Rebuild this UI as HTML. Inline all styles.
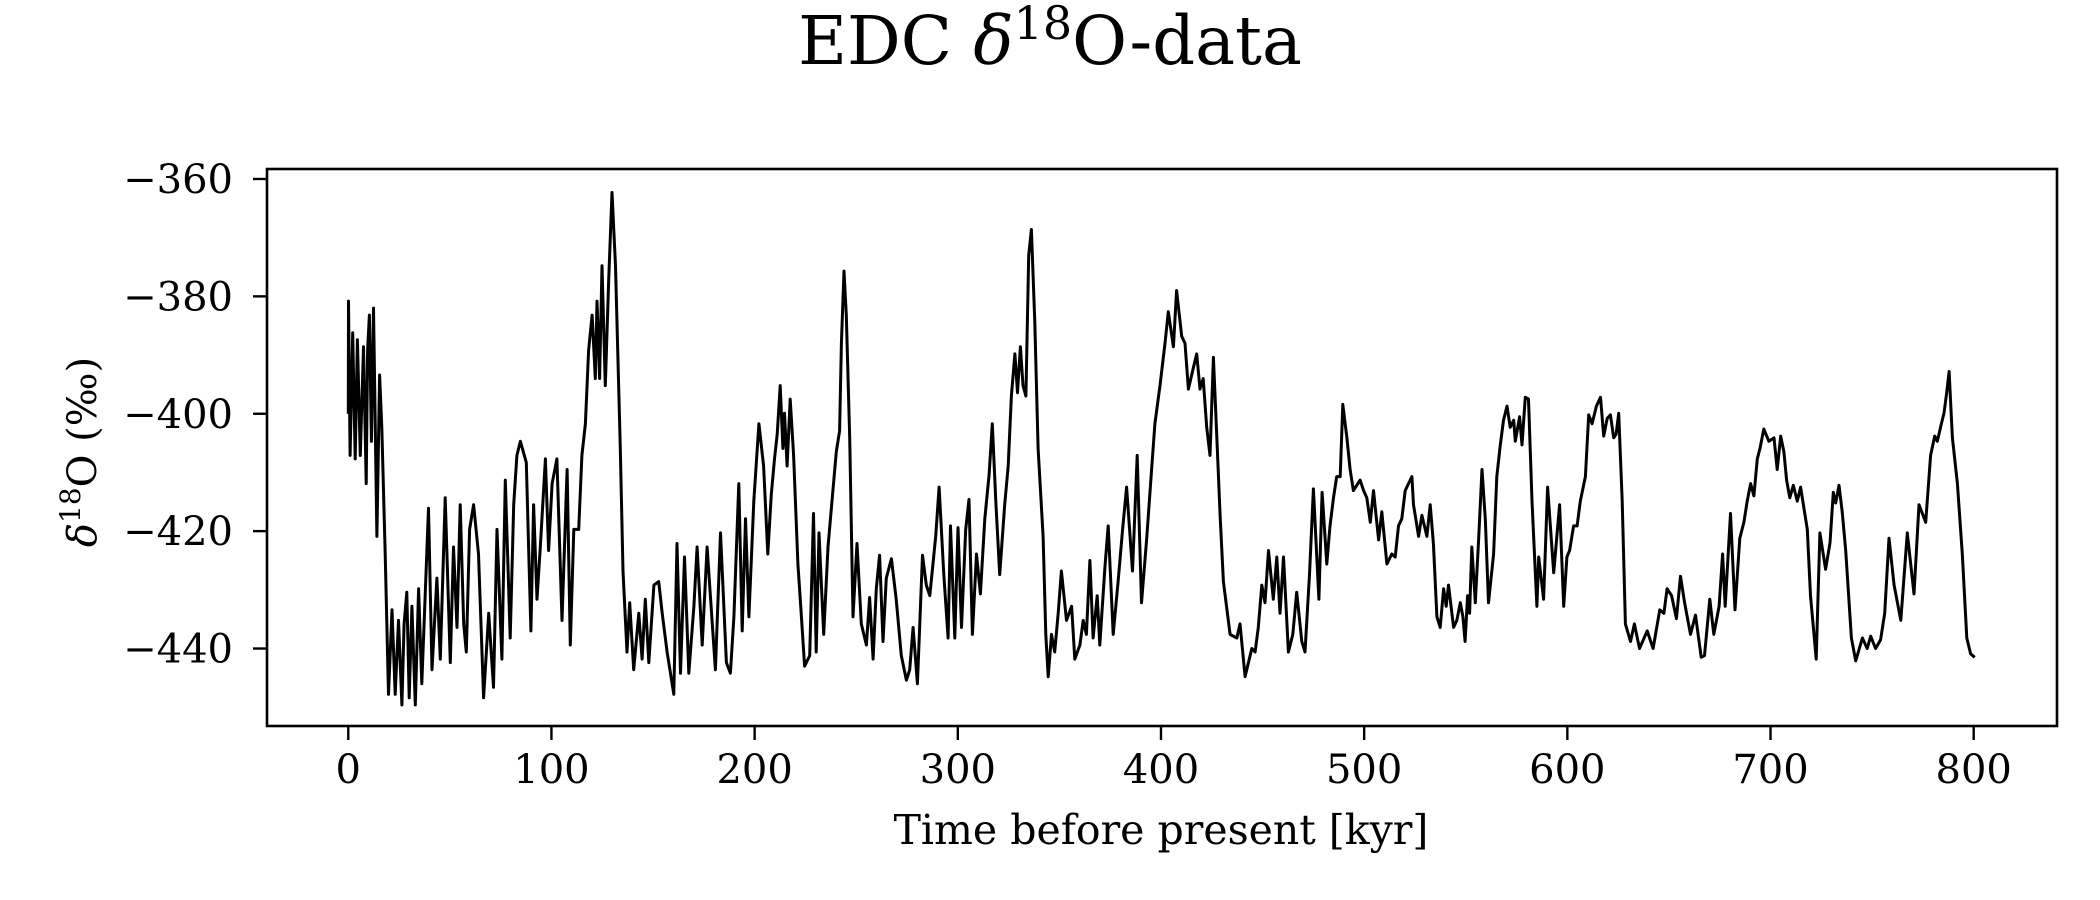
<!DOCTYPE html>
<html><head><meta charset="utf-8"><style>
html,body{margin:0;padding:0;background:#fff;}
svg{display:block;font-family:"DejaVu Serif","Liberation Serif",serif;}
</style></head><body>
<svg id="chart" width="2100" height="900" viewBox="0 0 2100 900" xmlns="http://www.w3.org/2000/svg">
<rect width="2100" height="900" fill="#fff"/>
<text x="1050" y="64" font-size="67" text-anchor="middle">EDC <tspan font-style="italic">δ</tspan><tspan font-size="46" dy="-25">18</tspan><tspan dy="25">O-data</tspan></text>
<text x="1161" y="844" font-size="41" text-anchor="middle">Time before present [kyr]</text>
<text transform="translate(96,452) rotate(-90)" font-size="40" text-anchor="middle"><tspan font-style="italic">δ</tspan><tspan font-size="28" dy="-16">18</tspan><tspan dy="16">O (‰)</tspan></text>
<g id="plot"></g>
</svg>
<script>
const xTicks=[0,100,200,300,400,500,600,700,800];
const yTicks=[-360,-380,-400,-420,-440];
const yTickLabels=["−360","−380","−400","−420","−440"];
const kyr=[0,0.1,0.9,2.2,3.4,4.5,5.9,7.5,8.8,9.5,10.4,11.4,12.4,14.1,15.4,16.5,18.2,19.8,21.5,23.1,24.7,26.4,27.5,28.8,30,31.3,33,34.6,36.2,37.9,39.5,41.2,43.6,45.3,47.7,50.2,51.8,53.5,55.1,56.8,58.1,59.7,61.7,64.1,66.6,69.1,71.5,73.2,75.6,77.3,79.7,81.4,83,84.7,87.6,89.9,91.2,92.9,94.5,97,98.6,100.3,102.7,105.2,107.7,109.3,111,113.4,115,116.7,118.3,120,121.6,122.4,123.7,124.9,126.5,128.2,129.8,131.5,133.9,135.2,137.2,138.5,140.5,143,144.6,146.2,147.9,150.4,152.8,154.5,156.9,160.2,161.8,163.5,165.5,167.6,170.1,171.7,174.2,176.6,178.6,180.7,183.2,186.1,188.1,189.8,192.2,193.9,195.5,197.2,199.6,202.1,
204.4,206.5,208.2,209.8,211.1,212.6,213.9,214.7,216,217.5,219.2,221.3,222.6,224.6,227.1,229,230.3,231.7,234,236.1,238.5,240.2,241.8,242.7,244,245.1,246.8,248.4,250.4,252.5,255,256.6,258.3,259.9,261.5,263.2,264.8,267.3,269.7,272.2,274.7,276.3,278,280.1,282.6,284.5,286.2,289.1,290.8,293.1,295.2,296.4,298.5,300.1,301.8,303.9,305.5,307.2,309.2,311.1,313.3,315.4,317,318.7,320.6,323.1,324.8,326.4,328.1,329.4,330.8,332.1,333.5,334.9,336.2,337.9,339.5,342,343.3,344.5,346.1,347.7,349.4,351,353.5,356,357.6,360.1,361.7,363.3,365,366.6,368.6,369.9,372.4,374,376.5,378.9,381.1,383.1,386,388.3,390.4,392.9,395.4,397,399.5,
402,403.6,406.1,407.7,410.2,411.8,413.5,415.9,417.6,419.2,420.8,422.5,424.1,425.8,427.4,429.1,430.7,434,437.3,438.9,441.4,444.7,446.3,447.9,449.6,451.2,452.9,455.3,457,458.6,460.3,462.7,464.9,466.8,469.3,470.9,473.1,475,477.7,479.3,481.6,483.2,484.9,486.5,488.2,489.5,491.5,493.1,494.7,498,499.7,501.3,503,504.6,507.1,508.7,511.2,513.6,515.3,516.9,518.5,520.2,521.8,523.5,524.3,526.8,528.4,530.9,532.5,534.1,535.8,537.4,539.1,540.4,541.5,544,545.6,547.3,548.6,549.7,550.9,551.9,553,554.7,556.3,558,559.6,561.2,563.7,565.3,567,568.6,570.3,571.9,573.6,574.4,576.5,577.7,579.3,580.9,582.6,585,585.9,588.3,590.3,593.3,596.2,598.2,599.8,601.1,603.1,604.8,606.4,
608.9,610.5,612.2,614.3,616.3,617.9,619.6,621.2,622.8,624,625.3,627,628.6,631.1,633,635.5,639.3,642.2,645.5,647.5,649.1,651.3,653.7,655.7,657.7,660.6,663.1,665.9,667.5,670.1,672.1,674.7,676.4,677.7,680.3,682.5,684.9,686.9,688.5,690.2,691.8,693.5,694.8,696.7,699.2,701.7,703.3,705,706.6,707.9,709.5,711.2,713.2,714.8,718.1,719.7,722.5,724.3,727.1,729.3,730.9,732.1,733.7,735.3,737,739.8,741.9,745.2,747.6,749.3,751.7,754.2,756.2,758.3,760.8,764.1,767.3,770.6,773.1,776.4,778.8,780.8,782.1,784.1,785.4,786.7,787.9,789.5,792,794.4,796.6,798.5,800.5];
const d18O=[-400,-380.8,-407.1,-386.2,-407.7,-387.4,-407.1,-388.6,-411.9,-389.2,-383.2,-404.7,-382,-420.9,-393.4,-402.3,-423.9,-447.8,-433.4,-447.8,-435.2,-449.6,-435.8,-430.4,-448.4,-432.8,-449.6,-429.8,-446,-430.4,-416.1,-443.6,-428,-441.8,-414.3,-442.4,-422.7,-436.4,-415.5,-435.8,-440.6,-419.7,-415.5,-423.9,-448.4,-434,-446.6,-419.7,-441.8,-411.3,-438.2,-415.5,-407.1,-404.7,-408.3,-437,-415.5,-431.6,-422.7,-407.7,-423.3,-411.9,-407.7,-435.2,-409.5,-439.4,-419.7,-419.7,-407.1,-401.7,-389.2,-383.2,-394,-380.8,-394,-374.8,-395.2,-377.2,-362.3,-374.8,-405.9,-426.8,-440.6,-432.2,-443.6,-434,-441.8,-431.6,-442.4,-429.2,-428.6,-434,-440.6,-447.8,-422.1,-444.2,-424.4,-444.2,-432.8,-422.7,-439.4,-422.7,-432.8,-443.6,-420.3,-442.4,-444.2,-434.6,-411.9,-437,-417.9,-434.6,-414.9,-401.7,-408.9,
-423.9,-413.7,-407.7,-403.5,-395.2,-405.9,-399.9,-408.9,-397.5,-407.1,-425.6,-432.2,-443,-441.2,-417,-440.6,-420.3,-437.6,-422.7,-413.1,-406.5,-402.9,-388,-375.7,-383.2,-404.1,-434.6,-422.1,-435.8,-439.4,-431.3,-441.8,-429.8,-424.1,-438.8,-428,-424.7,-431.6,-441.2,-445.4,-443.6,-436.4,-446,-424.1,-429.2,-431,-420.9,-412.5,-427.4,-438.2,-419.1,-438.2,-419.4,-436.4,-419.7,-414.6,-437.6,-423.9,-430.7,-417.9,-410.4,-401.7,-414.9,-427.4,-415.5,-408.9,-396.9,-389.8,-396.4,-388.6,-395.2,-397,-373,-368.6,-384.4,-405.9,-420.9,-437.6,-444.8,-437.6,-440.6,-434,-426.8,-435.2,-432.8,-441.8,-439.4,-435.2,-437.6,-425,-438.2,-431,-439.4,-426.2,-419.1,-437.6,-428.6,-419.7,-412.5,-426.8,-407.1,-432.2,-421.5,-409.5,-401.7,-395.2,-388,
-382.6,-388.6,-379,-386.8,-388,-395.8,-392.2,-389.8,-395.8,-394,-402.3,-407.1,-390.4,-403.5,-417.3,-428.6,-437.6,-438.2,-435.8,-444.8,-440,-440.6,-436.4,-429.2,-432.2,-423.3,-431.6,-424.4,-434,-424.4,-440.6,-437.6,-430.4,-438.8,-440.6,-427.4,-412.8,-431.6,-413.4,-425.6,-419.1,-414.3,-410.7,-410.7,-398.4,-404.1,-409.5,-413.1,-411.3,-413.1,-414.3,-418.5,-413.1,-421.5,-416.7,-425.6,-423.9,-424.4,-419.1,-417.9,-413.1,-411.9,-410.7,-415.5,-420.9,-417.3,-420.9,-415.5,-422.1,-434.6,-436.4,-429.8,-432.8,-429.2,-436.4,-435.2,-432.2,-434.6,-438.8,-431,-434,-422.7,-432.2,-421.5,-409.5,-417.9,-432.2,-423.9,-410.7,-405.3,-401.1,-398.7,-402.3,-401.1,-404.7,-400.5,-405.3,-397.2,-397.5,-414.9,-432.8,-424.4,-431.6,-412.5,-427.1,-415.5,-432.8,-424.4,-423.3,-419.1,-419.1,-414.9,-410.7,
-400.2,-401.7,-398.7,-397.2,-403.8,-400.8,-400.2,-404.1,-403.5,-399.9,-414.9,-435.8,-438.8,-435.8,-440,-437,-440,-433.4,-434,-429.8,-431,-434.9,-427.7,-432.2,-437.6,-434.3,-441.5,-441.2,-431.6,-437.6,-432.8,-423.9,-432.8,-417,-433.4,-421.2,-418.5,-414.9,-411.9,-414,-407.7,-405.9,-402.6,-404.7,-404.1,-409.5,-403.8,-406.5,-411.3,-414.3,-412.2,-414.9,-412.5,-419.7,-431,-441.8,-420.3,-426.5,-422,-413.4,-415.2,-412.2,-416.7,-423.3,-438.2,-442.1,-438.2,-440,-437.9,-440,-438.5,-434,-421.2,-429.2,-435.2,-420.3,-430.7,-415.5,-418.5,-407.1,-403.8,-404.7,-401.7,-399.9,-396.4,-392.8,-404.1,-411.9,-423.9,-438.2,-440.9,-441.5,-441.8];

const L=267,R=2057,T=169,B=726;
const xMin=-40,xMax=841,yMin=-453.2,yMax=-358.3;
const sx=v=>L+(v-xMin)/(xMax-xMin)*(R-L);
const sy=v=>B-(v-yMin)/(yMax-yMin)*(B-T);
const NS="http://www.w3.org/2000/svg";
const g=document.getElementById('plot');
function mk(tag,attrs){const e=document.createElementNS(NS,tag);for(const k in attrs)e.setAttribute(k,attrs[k]);g.appendChild(e);return e;}
let d='';
for(let i=0;i<kyr.length;i++){d+=(i?'L':'M')+sx(kyr[i]).toFixed(1)+','+sy(d18O[i]).toFixed(1);}
const line=mk('path',{d:d,fill:'none',stroke:'#000','stroke-width':3,'stroke-linejoin':'round'});


const frame=mk('rect',{x:L,y:T,width:R-L,height:B-T,fill:'none',stroke:'#000','stroke-width':2.6});


xTicks.forEach(v=>{
  const x=sx(v);
  const t=mk('line',{x1:x,x2:x,y1:B,y2:B+14,stroke:'#000','stroke-width':2.4});
  
  
  const lb=mk('text',{x:x,y:B+57,'font-size':40,'text-anchor':'middle'});
  lb.textContent=String(v);
  
  
});
yTicks.forEach((v,i)=>{
  const y=sy(v);
  const t=mk('line',{x1:L-14,x2:L,y1:y,y2:y,stroke:'#000','stroke-width':2.4});
  
  
  const lb=mk('text',{x:L-34,y:y+14,'font-size':40,'text-anchor':'end'});
  lb.textContent=yTickLabels[i];
  
  
});
</script>
</body></html>
